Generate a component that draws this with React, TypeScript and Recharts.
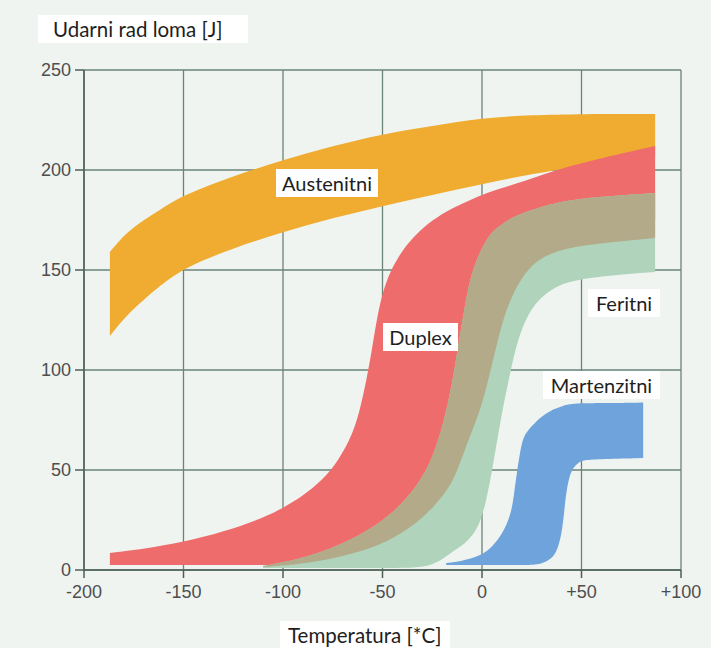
import React from 'react';
import { Area, CartesianGrid, ComposedChart, XAxis, YAxis } from 'recharts';

const xTicks = [-200, -150, -100, -50, 0, 50, 100];
const yTicks = [0, 50, 100, 150, 200, 250];

// Austenitni band (temperature, lower edge, upper edge)
const austT = [-187, -179, -170, -162, -150, -125, -100, -75, -50, -25, 0, 25, 50, 87];
const austLow = [117, 127, 135, 142, 151, 161, 169, 176, 182, 187.5, 193, 198, 202, 206];
const austHigh = [159, 168.5, 175, 180, 187.5, 197, 205, 212, 218, 222, 226, 227.5, 228, 228];

// Duplex band
const duplexT = [-187, -170, -150, -130, -110, -100, -90, -80, -72, -66, -62, -58, -55, -52, -48, -44, -40, -33, -25, -15, -5, 5, 20, 40, 60, 87];
const duplexLow = [2.5, 2.5, 2.5, 2.5, 2.5, 2.5, 4, 6, 8, 10, 11, 12, 13, 14, 15, 17, 19, 24, 35, 55, 95, 120, 150, 165, 170, 175];
const duplexHigh = [8.5, 10.5, 14, 19, 26, 31, 37, 45, 55, 66, 77, 95, 112, 131, 145, 153, 160, 168, 175, 181, 185.5, 189.5, 194, 201, 206, 212];

// Feritni band (light green part and darker overlap part share the upper edge)
const feritT = [-110, -88, -65, -47, -32, -24, -19, -15, -12, -9, -6, -2, 2, 6, 9.7, 13, 17, 22, 28, 38, 55, 87];
const feritLow = [1, 1, 1, 1, 1, 3, 6, 9, 11, 13, 16, 21, 33, 55, 77, 93, 112, 126, 135, 143, 146.5, 149];
const feritHigh = [2, 6, 15, 26, 42, 58, 75, 93, 112, 130, 146, 157, 165, 170, 172.5, 175, 177, 179, 181, 184, 186.5, 188.5];
const overlapLow = [1.5, 3, 8, 14, 24, 32, 38, 44, 51, 59, 67, 77, 90, 107, 122, 132, 141, 149, 155, 160, 163, 166];

// Martenzitni band
const martT = [-18, -10, -3, 1, 5, 9.5, 12.5, 14.7, 16, 17, 18.5, 20, 22, 25, 30, 35, 38, 40.5, 42, 43.5, 45, 48, 51, 60, 81];
const martLow = [2.5, 2.5, 2.5, 2.5, 2.5, 2.5, 2.5, 2.5, 2.5, 2.5, 2.5, 2.5, 2.5, 2.5, 3, 5.5, 10, 20, 37, 45, 50, 53.5, 55, 55.5, 56];
const martHigh = [3.5, 4.5, 6.5, 8.5, 11.5, 17, 23, 29, 37, 45, 55, 64, 68.5, 72, 77, 80, 81, 82, 82.5, 82.8, 83, 83.3, 83.4, 83.5, 83.7];

const rows: any[] = [];
austT.forEach((t, i) => rows.push({ t, aust: [austLow[i], austHigh[i]] }));
duplexT.forEach((t, i) => rows.push({ t, duplex: [duplexLow[i], duplexHigh[i]] }));
feritT.forEach((t, i) => {
    rows.push({ t, ferit: [feritLow[i], feritHigh[i]] });
    rows.push({ t, overlap: [overlapLow[i], feritHigh[i]] });
});
martT.forEach((t, i) => rows.push({ t, mart: [martLow[i], martHigh[i]] }));
rows.sort((a, b) => a.t - b.t);

const labelFont = 'Lato, "Noto Sans", sans-serif';

const Tag = ({ x, y, text, w, size = 20, pad }: { x: number; y: number; text: string; w: number; size?: number; pad?: number }) => (
    <div
        style={{
            position: 'absolute',
            left: x,
            top: y,
            width: pad !== undefined ? w - pad : w,
            height: 28,
            lineHeight: '28px',
            background: '#ffffff',
            textAlign: pad !== undefined ? 'left' : 'center',
            paddingLeft: pad,
            fontFamily: labelFont,
            fontSize: size,
            color: '#1e1e1e',
            whiteSpace: 'nowrap',
        }}
    >
        {text}
    </div>
);

export default function App() {
    const tickStyle = { fill: '#4e4e4e', fontSize: 18, fontFamily: '"Liberation Sans", Arial, sans-serif' };
    const gridColor = '#6a8477';

    return (
        <div style={{ position: 'absolute', left: 0, top: 0, width: 711, height: 648, background: '#f0f4f1', overflow: 'hidden' }}>
            <ComposedChart
                width={711}
                height={648}
                data={rows}
                margin={{ top: 70, right: 30, left: 24, bottom: 48 }}
            >
                <CartesianGrid stroke={gridColor} strokeWidth={1.3} />
                <XAxis
                    dataKey="t"
                    type="number"
                    domain={[-200, 100]}
                    ticks={xTicks}
                    height={30}
                    tickFormatter={(v: number) => (v > 0 ? `+${v}` : `${v}`)}
                    tick={tickStyle}
                    tickSize={8}
                    tickMargin={7}
                    stroke="#4c5f55"
                    strokeWidth={1.5}
                    allowDataOverflow
                />
                <YAxis
                    type="number"
                    domain={[0, 250]}
                    ticks={yTicks}
                    width={60}
                    tick={tickStyle}
                    tickSize={9}
                    tickMargin={4}
                    stroke="#4c5f55"
                    strokeWidth={1.5}
                    allowDataOverflow
                />
                <Area type="basis" dataKey="aust" stroke="none" fill="#efac31" fillOpacity={1} connectNulls isAnimationActive={false} dot={false} activeDot={false} />
                <Area type="basis" dataKey="duplex" stroke="none" fill="#ee6c6b" fillOpacity={1} connectNulls isAnimationActive={false} dot={false} activeDot={false} />
                <Area type="basis" dataKey="ferit" stroke="none" fill="#afd4bb" fillOpacity={1} connectNulls isAnimationActive={false} dot={false} activeDot={false} />
                <Area type="basis" dataKey="overlap" stroke="none" fill="#b3aa8a" fillOpacity={1} connectNulls isAnimationActive={false} dot={false} activeDot={false} />
                <Area type="basis" dataKey="mart" stroke="none" fill="#6fa3dc" fillOpacity={1} connectNulls isAnimationActive={false} dot={false} activeDot={false} />
            </ComposedChart>
            <Tag x={38} y={15} w={210} size={20.5} pad={15} text="Udarni rad loma [J]" />
            <Tag x={280} y={621} w={170} size={20.5} pad={8} text="Temperatura [*C]" />
            <Tag x={276} y={169} w={102} text="Austenitni" />
            <Tag x={383} y={323} w={75} text="Duplex" />
            <Tag x={588} y={289} w={72} text="Feritni" />
            <Tag x={543} y={371} w={117} text="Martenzitni" />
        </div>
    );
}
